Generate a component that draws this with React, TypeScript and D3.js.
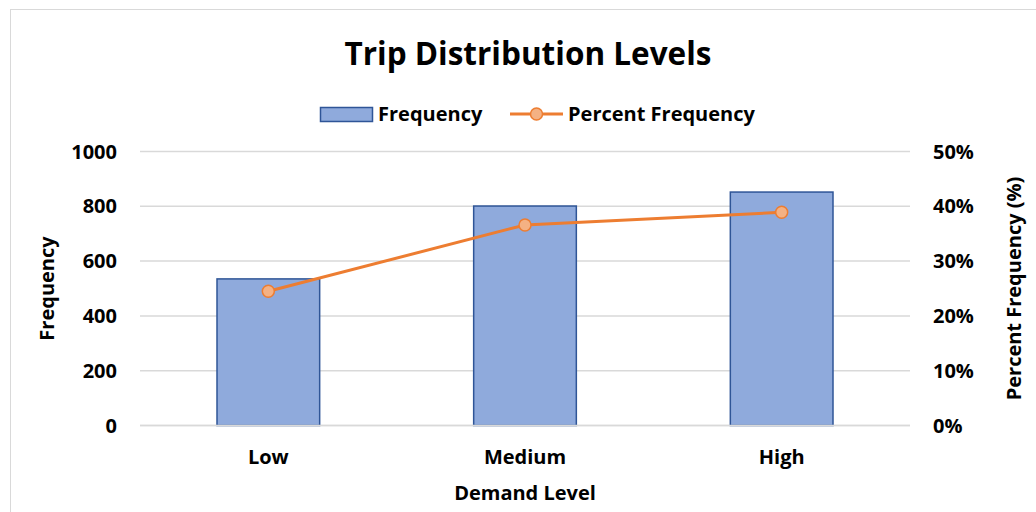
import React from "react";
import * as d3 from "d3";

const categories = ["Low", "Medium", "High"];
const frequency = [535, 801, 852];
const percentFrequency = [24.5, 36.6, 38.9];
const leftTicks = [0, 200, 400, 600, 800, 1000];
const rightTicks = [0, 10, 20, 30, 40, 50];

const W = 1036;
const H = 512;
const FONT = "'Open Sans', sans-serif";
const FS = 20;

export default function App() {
  const plot = { left: 140, right: 910, top: 151.5, bottom: 425.5 };
  const x = d3.scaleBand().domain(categories).range([plot.left, plot.right]).paddingInner(0.6).paddingOuter(0.3);
  const xc = (c: string) => (x(c) as number) + x.bandwidth() / 2;
  const yL = d3.scaleLinear().domain([0, 1000]).range([plot.bottom, plot.top]);
  const yR = d3.scaleLinear().domain([0, 50]).range([plot.bottom, plot.top]);
  const line = d3
    .line<number>()
    .x((_, i) => xc(categories[i]))
    .y((d) => yR(d));

  return (
    <svg width={W} height={H} style={{ position: "absolute", left: 0, top: 0 }} fontFamily={FONT}>
      <rect x={0} y={0} width={W} height={H} fill="#fff" />
      <rect x={10.5} y={9.5} width={W} height={H} fill="#fff" stroke="#d9d9d9" strokeWidth={1} />
      <text x={528} y={65} textAnchor="middle" fontSize={31.5} fontWeight={700} fill="#000">
        Trip Distribution Levels
      </text>

      {/* legend */}
      <rect x={320.5} y={107.5} width={52} height={14} fill="#8faadc" stroke="#2f5597" strokeWidth={1.5} />
      <text x={378} y={121} fontSize={FS} fontWeight={700} fill="#000">Frequency</text>
      <line x1={510} x2={563} y1={114} y2={114} stroke="#ed7d31" strokeWidth={3} />
      <circle cx={536.5} cy={114} r={6} fill="#f4b183" stroke="#ed7d31" strokeWidth={1.5} />
      <text x={568} y={121} fontSize={FS} fontWeight={700} fill="#000">Percent Frequency</text>

      {/* gridlines */}
      {leftTicks.map((t) => (
        <line key={t} x1={plot.left} x2={plot.right} y1={yL(t)} y2={yL(t)} stroke="#d9d9d9" strokeWidth={1.5} />
      ))}

      {/* bars */}
      {categories.map((c, i) => (
        <rect
          key={c}
          x={x(c)}
          y={yL(frequency[i])}
          width={x.bandwidth()}
          height={plot.bottom - yL(frequency[i])}
          fill="#8faadc"
          stroke="#2f5597"
          strokeWidth={1.5}
        />
      ))}
      <line x1={plot.left} x2={plot.right} y1={plot.bottom} y2={plot.bottom} stroke="#d9d9d9" strokeWidth={1.5} />

      {/* line */}
      <path d={line(percentFrequency) || ""} fill="none" stroke="#ed7d31" strokeWidth={3} />
      {percentFrequency.map((p, i) => (
        <circle key={i} cx={xc(categories[i])} cy={yR(p)} r={6} fill="#f4b183" stroke="#ed7d31" strokeWidth={1.5} />
      ))}

      {/* left axis */}
      {leftTicks.map((t) => (
        <text key={t} x={117} y={yL(t) + 7} textAnchor="end" fontSize={FS} fontWeight={700} fill="#000">
          {t}
        </text>
      ))}
      <text
        transform={`translate(54,${(plot.top + plot.bottom) / 2}) rotate(-90)`}
        textAnchor="middle"
        fontSize={FS}
        fontWeight={700}
        fill="#000"
      >
        Frequency
      </text>

      {/* right axis */}
      {rightTicks.map((t) => (
        <text key={t} x={933} y={yR(t) + 7} textAnchor="start" fontSize={FS} fontWeight={700} fill="#000">
          {t + "%"}
        </text>
      ))}
      <text
        transform={`translate(1021,${(plot.top + plot.bottom) / 2}) rotate(-90)`}
        textAnchor="middle"
        fontSize={FS}
        fontWeight={700}
        fill="#000"
      >
        Percent Frequency (%)
      </text>

      {/* x axis */}
      {categories.map((c) => (
        <text key={c} x={xc(c)} y={464} textAnchor="middle" fontSize={FS} fontWeight={700} fill="#000">
          {c}
        </text>
      ))}
      <text x={525} y={500} textAnchor="middle" fontSize={FS} fontWeight={700} fill="#000">
        Demand Level
      </text>
    </svg>
  );
}
